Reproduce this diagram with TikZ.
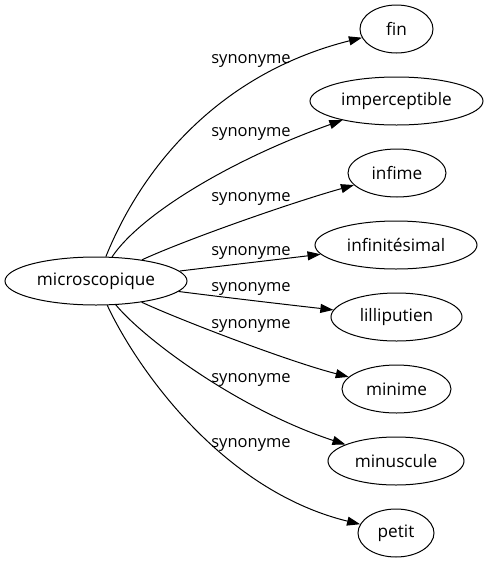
\documentclass[tikz,border=0pt]{standalone}
\usepackage{fontspec}
\setmainfont{Open Sans}
\usetikzlibrary{arrows.meta,shapes.geometric}
\begin{document}
\begin{tikzpicture}[x=1pt,y=-1pt,
  word/.style={draw, ellipse, inner sep=0pt, minimum height=48pt, line width=1pt, font=\fontsize{17.2}{20}\selectfont},
  rel/.style={line width=1pt, -{Triangle[length=13pt,width=9pt]}},
  lab/.style={font=\fontsize{16.5}{20}\selectfont, inner sep=0pt}]
\useasboundingbox (0,0) rectangle (487,563);
\node[word, minimum width=182pt] (s) at (96,281) {microscopique};
\node[word, minimum width=73pt]  (t1) at (396.5,29)  {fin};
\node[word, minimum width=173pt] (t2) at (396.5,101) {imperceptible};
\node[word, minimum width=98pt]  (t3) at (397,173)   {infime};
\node[word, minimum width=162pt] (t4) at (396,245)   {infinitésimal};
\node[word, minimum width=131pt] (t5) at (396.5,317) {lilliputien};
\node[word, minimum width=109pt] (t6) at (396.5,389) {minime};
\node[word, minimum width=136pt] (t7) at (396,461)   {minuscule};
\node[word, minimum width=76pt]  (t8) at (396,533)   {petit};
\draw[rel] (s) .. controls (145,160) and (225,72) .. (t1);
\draw[rel] (s) .. controls (140,215) and (230,160) .. (t2);
\draw[rel] (s) .. controls (185,240) and (290,203) .. (t3);
\draw[rel] (s) .. controls (230,265) and (290,258) .. (t4);
\draw[rel] (s) .. controls (230,298) and (290,305) .. (t5);
\draw[rel] (s) .. controls (180,320) and (290,362) .. (t6);
\draw[rel] (s) .. controls (145,340) and (240,410) .. (t7);
\draw[rel] (s) .. controls (135,365) and (220,490) .. (t8);
\node[lab] (l1) at (251,60.7)  {synonyme};
\node[lab] (l2) at (251,133.7) {synonyme};
\node[lab] (l3) at (251,198.7) {synonyme};
\node[lab] (l4) at (251,252.7) {synonyme};
\node[lab] (l5) at (251,288.7) {synonyme};
\node[lab] (l6) at (251,325.7) {synonyme};
\node[lab] (l7) at (251,379.7) {synonyme};
\node[lab] (l8) at (251,444.7) {synonyme};
\end{tikzpicture}
\end{document}
